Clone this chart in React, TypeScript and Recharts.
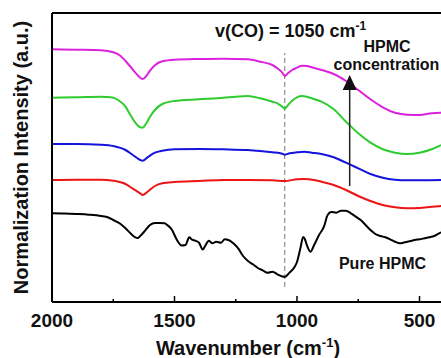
import React from 'react';
import { LineChart, Line, XAxis, YAxis, ReferenceLine } from 'recharts';

// Wavenumber (cm-1) vs normalized intensity (a.u., offset-stacked)
const magentaSeries: [number, number][] = [
  [2000, 252.7], [1900, 252.3], [1800, 251.7], [1750, 249.7], [1720, 246], [1700, 241], [1680, 235.3],
  [1660, 229.3], [1640, 224.3], [1630, 223], [1615, 226], [1600, 231.3], [1580, 236.7], [1550, 240.7],
  [1500, 242.3], [1400, 243], [1300, 243.3], [1200, 242.7], [1150, 240.3], [1100, 237], [1080, 233.7],
  [1060, 229.3], [1050, 226], [1040, 228], [1020, 232], [1000, 234.3], [980, 236.3], [960, 236],
  [940, 234.7], [900, 232], [850, 228], [800, 221], [750, 212], [700, 202.7], [650, 194.7], [600, 189.3],
  [550, 187.3], [500, 187], [450, 188.7], [400, 189.3],
];

const greenSeries: [number, number][] = [
  [2000, 204.3], [1900, 204.7], [1800, 205.3], [1760, 204.7], [1730, 202], [1700, 195.3], [1680, 187],
  [1660, 179.3], [1640, 174.7], [1630, 174.3], [1615, 178.7], [1600, 185.3], [1580, 192], [1550, 198],
  [1500, 201], [1400, 202.7], [1300, 204.3], [1250, 205.3], [1200, 206], [1150, 203.7], [1100, 200.3],
  [1080, 198.7], [1060, 195.3], [1050, 193.3], [1040, 196], [1020, 201.3], [1000, 204.7], [980, 206],
  [960, 205.3], [940, 203.7], [900, 200.3], [850, 192.7], [800, 180.3], [750, 168.7], [700, 159.3],
  [650, 152.7], [600, 149.3], [550, 148], [500, 149.3], [450, 152.7], [420, 156], [400, 157.7],
];

const blueSeries: [number, number][] = [
  [2000, 158], [1900, 158], [1800, 157.3], [1750, 156], [1700, 152], [1670, 147], [1640, 142],
  [1630, 141.3], [1610, 144.7], [1580, 149.3], [1550, 151.3], [1500, 152.7], [1400, 153], [1300, 152.7],
  [1200, 152], [1150, 151], [1100, 149.7], [1060, 148.3], [1050, 147.3], [1030, 148.7], [1000, 149.7],
  [970, 150.3], [940, 149.3], [900, 148], [850, 144.7], [800, 139.3], [750, 133.7], [700, 128],
  [650, 124.3], [600, 122.3], [550, 121.7], [500, 121.7], [400, 122],
];

const redSeries: [number, number][] = [
  [2000, 122], [1900, 122.3], [1800, 122.3], [1750, 121.3], [1700, 118], [1670, 113.3], [1640, 108.7],
  [1630, 107], [1610, 110.3], [1580, 116], [1550, 118.7], [1500, 120], [1400, 121], [1300, 122],
  [1200, 122], [1100, 121.7], [1050, 121], [1000, 122.7], [970, 123], [930, 122], [900, 120.3],
  [850, 117], [800, 112], [750, 106], [700, 101], [650, 97], [600, 94.7], [550, 93.7], [500, 94],
  [450, 95.3], [400, 96.3],
];

const pureHpmcSeries: [number, number][] = [
  [2000, 88.7], [1950, 88.5], [1900, 88], [1850, 87.3], [1800, 86], [1770, 84.5], [1750, 82], [1720, 78],
  [1700, 73.7], [1680, 68.7], [1660, 64.7], [1650, 64], [1640, 66], [1620, 71.3], [1600, 77], [1580, 79],
  [1560, 79], [1540, 78.7], [1530, 77], [1510, 72], [1500, 67], [1490, 62], [1470, 56.5], [1455, 57],
  [1440, 64.7], [1430, 62.7], [1415, 61.3], [1400, 59.3], [1385, 52.5], [1375, 56], [1360, 61.3],
  [1345, 58.7], [1330, 60.3], [1310, 59.3], [1295, 62.7], [1280, 62], [1260, 58.7], [1240, 53.7],
  [1220, 46], [1200, 41], [1180, 37.7], [1160, 34], [1140, 31.7], [1120, 29.3], [1100, 30.3],
  [1080, 27.7], [1060, 25.5], [1050, 25], [1030, 29.5], [1010, 35], [1000, 40], [985, 55], [975, 65],
  [968, 63], [960, 57], [945, 50.3], [930, 57], [910, 67], [890, 75.3], [875, 87], [860, 90],
  [840, 89.3], [820, 91.3], [800, 91.3], [780, 88.7], [760, 85.3], [740, 82], [720, 77], [700, 72],
  [680, 68], [660, 66], [640, 64.7], [620, 62.7], [600, 60.3], [580, 58.7], [560, 59.7], [540, 60.7],
  [520, 62], [500, 62.7], [480, 63.7], [460, 64.7], [440, 66], [420, 68.7], [400, 70.5],
];

const xTicks = [2000, 1750, 1500, 1250, 1000, 750, 500];
const majorTickLabels = [2000, 1500, 1000, 500];
const xDomain: [number, number] = [400, 2000];
const yDomain: [number, number] = [0, 289];

const coPeak = 1050;
const arrowWavenumber = 785;
const arrowFrom = 116;
const arrowTo = 227;

const toPoints = (arr: [number, number][]) => arr.map(([wn, v]) => ({ wn, v }));

const FONT = '"Liberation Sans", Arial, Helvetica, sans-serif';

const series = [
  { name: 'magenta', data: toPoints(magentaSeries), color: '#dd22dd' },
  { name: 'green', data: toPoints(greenSeries), color: '#2ecc2e' },
  { name: 'blue', data: toPoints(blueSeries), color: '#1414dc' },
  { name: 'red', data: toPoints(redSeries), color: '#ec1414' },
  { name: 'pure', data: toPoints(pureHpmcSeries), color: '#000000' },
];

const XTick = (props: any) => {
  const { x, y, payload } = props;
  const major = majorTickLabels.includes(payload.value);
  return (
    <g>
      <line x1={x} x2={x} y1={y} y2={y - (major ? 6 : 3)} stroke="#000" strokeWidth={1.5} />
      {major && (
        <text x={x} y={y + 25} textAnchor="middle" fontFamily={FONT} fontWeight="bold" fontSize={19} fill="#111">
          {payload.value}
        </text>
      )}
    </g>
  );
};

const XLabel = (props: any) => {
  const vb = props.viewBox || {};
  const cx = vb.x + vb.width / 2;
  return (
    <text x={cx} y={347} textAnchor="middle" fontFamily={FONT} fontWeight="bold" fontSize={20} fill="#111">
      Wavenumber (cm<tspan dy={-8} fontSize={13}>-1</tspan><tspan dy={8}>)</tspan>
    </text>
  );
};

const YLabel = (props: any) => {
  const vb = props.viewBox || {};
  const cy = vb.y + vb.height / 2;
  return (
    <text
      x={20}
      y={cy}
      transform={`rotate(-90, 20, ${cy})`}
      textAnchor="middle"
      fontFamily={FONT}
      fontWeight="bold"
      fontSize={20}
      fill="#111"
    >
      Normalization Intensity (a.u.)
    </text>
  );
};

const ArrowShape = (props: any) => {
  const { x1, y1, y2 } = props;
  const top = Math.min(y1, y2);
  const bottom = Math.max(y1, y2);
  return (
    <g>
      <line x1={x1} x2={x1} y1={bottom} y2={top + 14} stroke="#222" strokeWidth={1.5} />
      <polygon points={`${x1},${top} ${x1 - 7},${top + 15} ${x1 + 7},${top + 15}`} fill="#111" />
    </g>
  );
};

export default function App() {
  return (
    <div
      style={{
        position: 'fixed',
        left: 8,
        top: 8,
        width: 433,
        height: 350,
        overflow: 'hidden',
        background: '#fff',
      }}
    >
      <LineChart width={460} height={350} margin={{ top: 5, right: 24, bottom: 16, left: 0 }}>
        <XAxis
          dataKey="wn"
          type="number"
          domain={xDomain}
          reversed
          allowDataOverflow
          ticks={xTicks}
          interval={0}
          height={40}
          tickSize={0}
          tickMargin={0}
          tickLine={false}
          tick={<XTick />}
          axisLine={{ stroke: '#000', strokeWidth: 2 }}
          label={<XLabel />}
        />
        <YAxis
          type="number"
          domain={yDomain}
          allowDataOverflow
          width={44}
          tick={false}
          tickLine={false}
          axisLine={{ stroke: '#000', strokeWidth: 2 }}
          label={<YLabel />}
        />
        <ReferenceLine y={yDomain[1]} stroke="#000" strokeWidth={2} />
        <ReferenceLine
          segment={[{ x: coPeak, y: 15 }, { x: coPeak, y: 249 }]}
          stroke="#777"
          strokeWidth={1}
          strokeDasharray="5 3"
        />
        {series.map((s) => (
          <Line
            key={s.name}
            data={s.data}
            dataKey="v"
            type="monotone"
            stroke={s.color}
            strokeWidth={2}
            dot={false}
            activeDot={false}
            isAnimationActive={false}
          />
        ))}
        <ReferenceLine
          segment={[{ x: arrowWavenumber, y: arrowFrom }, { x: arrowWavenumber, y: arrowTo }]}
          shape={<ArrowShape />}
        />
        <text x={207} y={29} fontFamily={FONT} fontWeight="bold" fontSize={18} fill="#111">
          v(CO) = 1050 cm<tspan dy={-7} fontSize={12}>-1</tspan>
        </text>
        <text x={379} y={44} textAnchor="middle" fontFamily={FONT} fontWeight="bold" fontSize={16} fill="#111">
          HPMC
        </text>
        <text x={378.5} y={62} textAnchor="middle" fontFamily={FONT} fontWeight="bold" fontSize={16} fill="#111">
          concentration
        </text>
        <text x={374.5} y={261} textAnchor="middle" fontFamily={FONT} fontWeight="bold" fontSize={16} fill="#111">
          Pure HPMC
        </text>
      </LineChart>
    </div>
  );
}
